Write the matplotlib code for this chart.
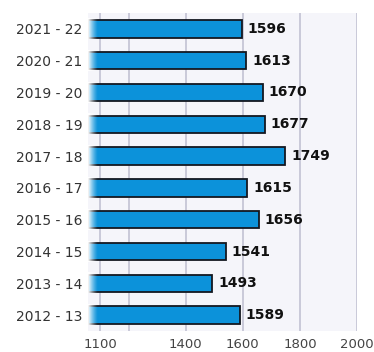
import numpy as np
import matplotlib
matplotlib.use("Agg")
import matplotlib.pyplot as plt

categories = ["2012 - 13", "2013 - 14", "2014 - 15", "2015 - 16", "2016 - 17",
              "2017 - 18", "2018 - 19", "2019 - 20", "2020 - 21", "2021 - 22"]
values = [1589, 1493, 1541, 1656, 1615, 1749, 1677, 1670, 1613, 1596]
tick_values = [1100, 1400, 1600, 1800, 2000]
grid_values = [1100, 1200, 1400, 1600, 1800, 2000]

plt.rcParams['font.family'] = ['DejaVu Sans']

W, H = 374, 352
fig = plt.figure(figsize=(W / 100, H / 100), dpi=100)
fig.patch.set_facecolor("white")
ax = fig.add_axes([88 / W, 1 - 331 / H, (357 - 88) / W, (331 - 13) / H])
ax.set_facecolor("#f5f5fa")

x0 = 1058
ax.set_xlim(x0, 2000)
ax.set_ylim(-0.5, len(categories) - 0.5)

for g in grid_values:
    ax.axvline(g, color="#c6c6d6", lw=1.3, zorder=1)

ypos = np.arange(len(categories))
bh = 0.55
ax.barh(ypos, [v - x0 for v in values], left=x0, height=bh,
        color="#0c92da", edgecolor="#141820", linewidth=1.3, zorder=2)

# white fade at the left end of bars
grad = np.zeros((1, 64, 4))
grad[..., :3] = 1.0
grad[0, :, 3] = np.linspace(1, 0, 64) ** 1.3
fade_w = 10 / 0.2865
for y in ypos:
    ax.imshow(grad, extent=[x0, x0 + fade_w, y - bh / 2 - 0.04, y + bh / 2 + 0.04],
              aspect="auto", zorder=3, interpolation="bilinear")
ax.set_xlim(x0, 2000)
ax.set_ylim(-0.5, len(categories) - 0.5)

for y, v in zip(ypos, values):
    ax.text(v + 6 / 0.2865, y, str(v), va="center", ha="left",
            fontsize=10, fontweight="bold", color="#111111", zorder=4)

ax.set_yticks(ypos)
ax.set_yticklabels(categories, fontsize=10, color="#333333")
ax.set_xticks(tick_values)
ax.set_xticklabels([str(t) for t in tick_values], fontsize=9.5, color="#444444")
ax.tick_params(length=0, pad=4)
ax.tick_params(axis="x", pad=5)
for s in ax.spines.values():
    s.set_visible(False)

fig.savefig("out.png", dpi=100, facecolor="white")
